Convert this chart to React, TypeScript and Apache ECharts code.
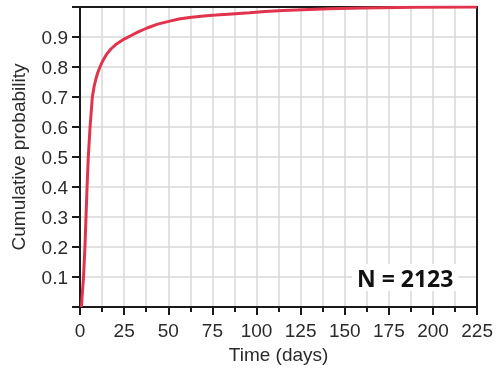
import React, { useEffect, useRef } from "react";
import * as echarts from "echarts";

const days = [0.8, 1, 2, 2.8, 3.4, 4, 4.7, 5.7, 7, 8, 9, 10, 11.3, 13, 15, 17.5, 20.7, 25, 29, 33, 38, 44, 50.9, 56, 62, 70, 77, 86, 96, 105, 115, 130, 141, 160, 190, 225];
const probs = [0, 0.02, 0.1, 0.2, 0.3, 0.4, 0.5, 0.6, 0.7, 0.735, 0.76, 0.78, 0.8, 0.822, 0.842, 0.86, 0.877, 0.893, 0.905, 0.917, 0.93, 0.943, 0.953, 0.96, 0.965, 0.97, 0.973, 0.977, 0.981, 0.985, 0.988, 0.992, 0.994, 0.997, 0.999, 1.0];
const xTicks = [0, 25, 50, 75, 100, 125, 150, 175, 200, 225];
const yLabels = [0.1, 0.2, 0.3, 0.4, 0.5, 0.6, 0.7, 0.8, 0.9];
const annotation = "N = 2123";

export default function App() {
  const ref = useRef<HTMLDivElement>(null);
  useEffect(() => {
    if (!ref.current) return;
    const chart = echarts.init(ref.current, null, { renderer: "svg" });
    const labelFont = { fontFamily: "Liberation Sans", fontSize: 19, color: "#2b2b2b" };
    const frameAxis = {
      type: "value",
      axisLine: { show: true, onZero: false, lineStyle: { color: "#1a1a1a", width: 2 } },
      axisTick: { show: false },
      axisLabel: { show: false },
      splitLine: { show: false },
    };
    chart.setOption({
      animation: false,
      grid: { left: 80, right: 18, top: 7, bottom: 68 },
      xAxis: [
        {
          type: "value",
          min: xTicks[0],
          max: xTicks[xTicks.length - 1],
          interval: 25,
          name: "Time (days)",
          nameLocation: "middle",
          nameGap: 38,
          nameTextStyle: { ...labelFont },
          axisLine: { show: true, onZero: false, lineStyle: { color: "#1a1a1a", width: 2 } },
          axisTick: { show: true, length: 8, lineStyle: { color: "#1a1a1a", width: 2 } },
          minorTick: { show: true, splitNumber: 2, length: 5, lineStyle: { color: "#1a1a1a", width: 2 } },
          axisLabel: { ...labelFont, margin: 14 },
          splitLine: { show: true, lineStyle: { color: "#d9d9d9", width: 1.5 } },
          minorSplitLine: { show: true, lineStyle: { color: "#d9d9d9", width: 1.5 } },
        },
        { ...frameAxis, position: "top", min: xTicks[0], max: xTicks[xTicks.length - 1] },
      ],
      yAxis: [
        {
          type: "value",
          min: 0,
          max: 1,
          interval: 0.1,
          name: "Cumulative probability",
          nameLocation: "middle",
          nameGap: 52,
          nameTextStyle: { ...labelFont },
          axisLine: { show: true, onZero: false, lineStyle: { color: "#1a1a1a", width: 2 } },
          axisTick: { show: true, length: 8, lineStyle: { color: "#1a1a1a", width: 2 } },
          axisLabel: {
            ...labelFont,
            margin: 12,
            formatter: (v: number) => {
              const r = Math.round(v * 10) / 10;
              return yLabels.includes(r) ? r.toFixed(1) : "";
            },
          },
          splitLine: { show: true, lineStyle: { color: "#d9d9d9", width: 1.5 } },
        },
        { ...frameAxis, position: "right", min: 0, max: 1 },
      ],
      series: [
        {
          type: "line",
          xAxisIndex: 0,
          yAxisIndex: 0,
          data: days.map((d, i) => [d, probs[i]]),
          showSymbol: false,
          lineStyle: { color: "#e2334d", width: 3 },
          z: 3,
        },
      ],
      graphic: [
        {
          type: "text",
          left: 352,
          top: 264,
          z: 10,
          style: {
            text: annotation,
            font: "bold 23px 'Open Sans'",
            fill: "#111",
            backgroundColor: "#ffffff",
            padding: [2, 5, 2, 5],
          },
        },
      ],
    });
    return () => chart.dispose();
  }, []);
  return <div ref={ref} style={{ position: "fixed", left: 0, top: 0, width: 496, height: 375 }} />;
}
